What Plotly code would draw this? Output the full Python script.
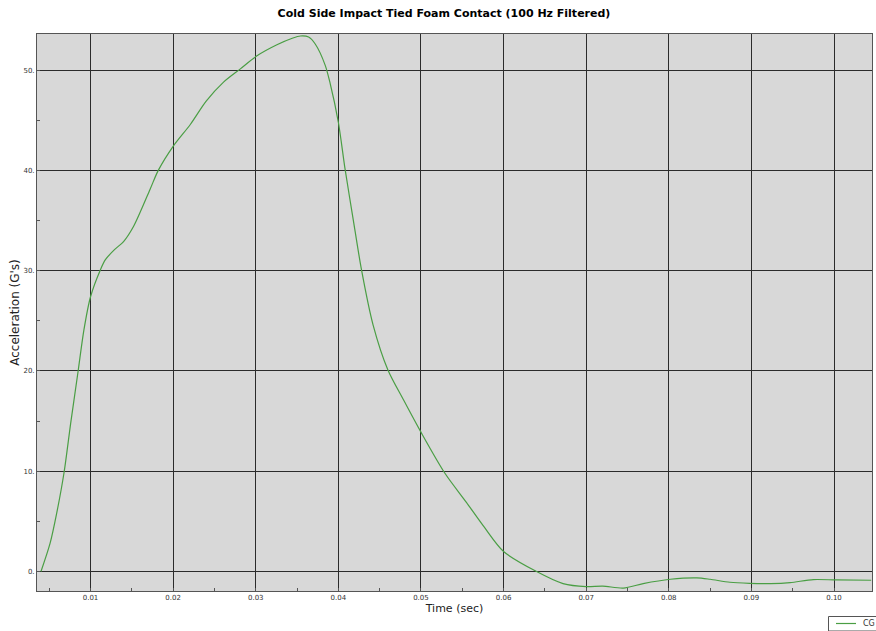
import plotly.graph_objects as go

time_sec = [0.0040, 0.0051, 0.0059, 0.0068, 0.0076, 0.0085, 0.0092, 0.0100, 0.0112, 0.0118,
            0.0129, 0.0140, 0.0152, 0.0172, 0.0182, 0.0200, 0.0221, 0.0240, 0.0261, 0.0281,
            0.0301, 0.0325, 0.0345, 0.0354, 0.0364, 0.0372, 0.0384, 0.0390, 0.0400, 0.0408,
            0.0418, 0.0428, 0.0442, 0.0460, 0.0479, 0.0500, 0.0529, 0.0555, 0.0576, 0.0600,
            0.0640, 0.0672, 0.0700, 0.0720, 0.0745, 0.0769, 0.0802, 0.0834, 0.0850, 0.0874,
            0.0898, 0.0923, 0.0947, 0.0975, 0.1003, 0.1045]
accel_g = [0.0, 2.8, 5.8, 9.9, 14.8, 20.0, 24.1, 27.4, 30.1, 31.1,
           32.1, 32.9, 34.4, 38.1, 40.0, 42.4, 44.6, 46.9, 48.8, 50.1,
           51.4, 52.5, 53.2, 53.4, 53.3, 52.6, 50.5, 48.7, 44.8, 40.2,
           35.1, 30.1, 24.6, 20.1, 17.1, 13.9, 9.8, 6.9, 4.5, 2.0,
           0.0, -1.2, -1.5, -1.45, -1.65, -1.2, -0.77, -0.63, -0.77, -1.07,
           -1.17, -1.2, -1.1, -0.8, -0.84, -0.87]

x_ticks = [0.01, 0.02, 0.03, 0.04, 0.05, 0.06, 0.07, 0.08, 0.09, 0.10]
x_tick_labels = ["0.01", "0.02", "0.03", "0.04", "0.05", "0.06", "0.07", "0.08", "0.09", "0.10"]
y_ticks = [0, 10, 20, 30, 40, 50]
y_tick_labels = ["0.", "10.", "20.", "30.", "40.", "50."]

LINE = "#4a9e44"
GRID = "#2b2b2b"

fig = go.Figure()
fig.add_trace(go.Scatter(x=time_sec, y=accel_g, mode="lines", name="CG",
                         line=dict(color=LINE, width=1.2, shape="spline", smoothing=0.8),
                         showlegend=False))

W, H = 876, 631
L, R, T, B = 37, 4, 34, 40
pw, ph = W - L - R, H - T - B

def px(xp):
    return (xp - L) / pw

def py(yp):
    return (H - B - yp) / ph

fig.update_layout(
    width=W, height=H,
    margin=dict(l=L, r=R, t=T, b=B, autoexpand=False),
    paper_bgcolor="white",
    plot_bgcolor="#d8d8d8",
    font=dict(family="DejaVu Sans", color="#222222"),
    title=dict(text="<b>Cold Side Impact Tied Foam Contact (100 Hz Filtered)</b>",
               x=px(444), xref="paper", xanchor="center",
               y=1 - 13 / H, yref="container", yanchor="middle",
               font=dict(size=11, color="black")),
    xaxis=dict(range=[0.00352, 0.1046], tickvals=x_ticks, ticktext=x_tick_labels,
               showgrid=True, gridcolor=GRID, gridwidth=1.2, zeroline=False,
               showline=True, linecolor="#555555", linewidth=1, mirror=True,
               ticks="", tickfont=dict(size=7, color="#333333"),
               minor=dict(dtick=0.005, tick0=0, ticks="inside", ticklen=3,
                          tickcolor="#555555", showgrid=False),
               title=dict(text="Time (sec)", font=dict(size=11, color="#222222"), standoff=2)),
    yaxis=dict(range=[-1.94, 53.6], tickvals=y_ticks, ticktext=y_tick_labels,
               showgrid=True, gridcolor=GRID, gridwidth=1.2, zeroline=False,
               showline=True, linecolor="#555555", linewidth=1, mirror=True,
               ticks="", tickfont=dict(size=7, color="#333333"),
               minor=dict(dtick=5, tick0=0, ticks="inside", ticklen=3,
                          tickcolor="#555555", showgrid=False),
               title=dict(text="Acceleration (G's)", font=dict(size=12, color="#222222"), standoff=1)),
)

# legend box at bottom right (partially clipped, as in reference)
fig.add_shape(type="rect", xref="paper", yref="paper",
              x0=px(828.5), x1=px(890), y0=py(631), y1=py(616.5),
              line=dict(color="#555555", width=1), fillcolor="white", layer="above")
fig.add_shape(type="line", xref="paper", yref="paper",
              x0=px(836), x1=px(856), y0=py(623.5), y1=py(623.5),
              line=dict(color=LINE, width=1.2), layer="above")
fig.add_annotation(text="CG", xref="paper", yref="paper", x=px(861), y=py(623.5),
                   xanchor="left", yanchor="middle", showarrow=False,
                   font=dict(size=8, color="#333333"))

fig.write_html("out.html", config={"displayModeBar": False},
               post_script="document.body.style.margin='0';document.body.style.overflow='hidden';")
